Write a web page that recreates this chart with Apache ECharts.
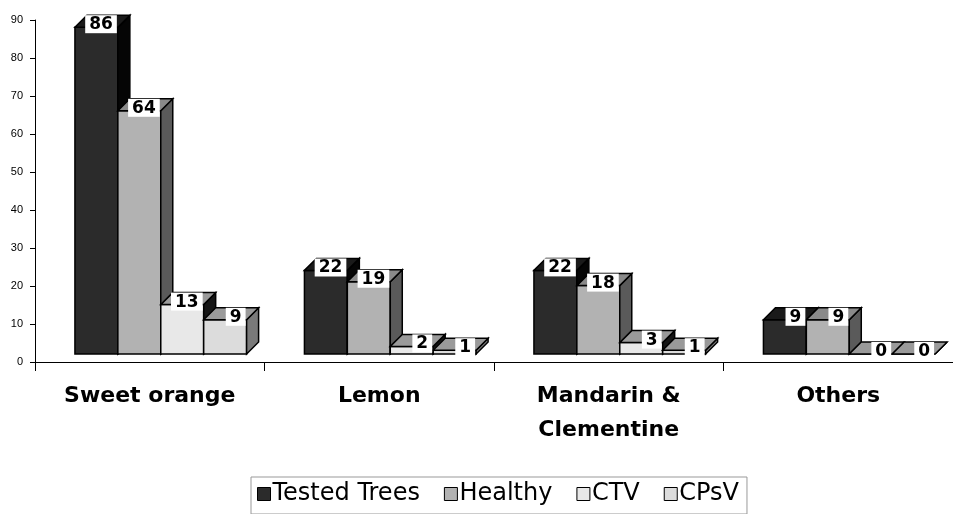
<!DOCTYPE html>
<html>
<head>
<meta charset="utf-8">
<script src="https://cdn.jsdelivr.net/npm/echarts@6/dist/echarts.min.js"></script>
<style>
  html, body { margin: 0; padding: 0; background: #fff; }
  #chart { width: 953px; height: 514px; }
</style>
</head>
<body>
<div id="chart"></div>
<script>
// 数据
const categories = ['Sweet orange', 'Lemon', 'Mandarin &\nClementine', 'Others'];
const seriesNames = ['Tested Trees', 'Healthy', 'CTV', 'CPsV'];
const testedTrees = [86, 22, 22, 9];
const healthy = [64, 19, 18, 9];
const ctv = [13, 2, 3, 0];
const cpsv = [9, 1, 1, 0];
const yTicks = [0, 90, 10];

// 每个系列的面颜色: 正面 / 侧面 / 顶面
const faceColors = [
    { front: '#2b2b2b', side: '#050505', top: '#1a1a1a' },
    { front: '#b2b2b2', side: '#5a5a5a', top: '#8a8a8a' },
    { front: '#e8e8e8', side: '#151515', top: '#9a9a9a' },
    { front: '#dcdcdc', side: '#7a7a7a', top: '#9a9a9a' }
];

const DEPTH = 12;   // 3D深度
const LIFT = 8;     // 正面抬高

// 画一个3D柱子
function makeRender(si) {
    return function (params, api) {
        const cat = api.value(0);
        const v = api.value(1);
        const base = api.coord([cat, 0]);
        const top = api.coord([cat, v]);
        const cw = api.size([1, 0])[0];
        const bw = cw * 0.187;
        const x0 = base[0] - cw / 2 + cw * 0.174 + si * bw;
        const x1 = x0 + bw;
        const yb = base[1] - LIFT;
        const yt = top[1] - LIFT;
        const c = faceColors[si];
        const stroke = { stroke: '#000', lineWidth: 1.5 };
        return {
            type: 'group',
            children: [
                {
                    type: 'rect',
                    shape: { x: x0, y: yt, width: bw, height: yb - yt },
                    style: Object.assign({ fill: c.front }, stroke)
                },
                {
                    type: 'polygon',
                    shape: { points: [[x1, yb], [x1 + DEPTH, yb - DEPTH], [x1 + DEPTH, yt - DEPTH], [x1, yt]] },
                    style: Object.assign({ fill: c.side }, stroke)
                },
                {
                    type: 'polygon',
                    shape: { points: [[x0, yt], [x0 + DEPTH, yt - DEPTH], [x1 + DEPTH, yt - DEPTH], [x1, yt]] },
                    style: Object.assign({ fill: c.top }, stroke)
                },
                {
                    type: 'text',
                    z2: 10,
                    style: {
                        text: String(v),
                        x: x1 - 1,
                        y: yt + 6,
                        align: 'right',
                        verticalAlign: 'bottom',
                        font: 'bold 17px "DejaVu Sans", sans-serif',
                        fill: '#000',
                        backgroundColor: '#fff',
                        padding: [1, 4, 0, 4]
                    }
                }
            ]
        };
    };
}

const allValues = [testedTrees, healthy, ctv, cpsv];

const chart = echarts.init(document.getElementById('chart'));
chart.setOption({
    animation: false,
    backgroundColor: '#fff',
    grid: { left: 35, right: 0, top: 20, bottom: 152 },
    legend: {
        data: seriesNames,
        left: 251,
        top: 477,
        icon: 'rect',
        itemWidth: 13,
        itemHeight: 13,
        itemGap: 24,
        padding: [5, 8, 8, 6],
        borderColor: '#999',
        borderWidth: 1,
        itemStyle: { borderColor: '#000', borderWidth: 1 },
        textStyle: { fontSize: 24, color: '#000', fontFamily: '"DejaVu Sans", sans-serif', padding: [0, 0, 0, -3] }
    },
    xAxis: {
        type: 'category',
        data: categories,
        axisLine: { lineStyle: { color: '#000', width: 1 } },
        axisTick: { show: true, length: 9, lineStyle: { color: '#000' } },
        axisLabel: {
            interval: 0,
            margin: 17,
            fontSize: 22,
            lineHeight: 34,
            fontWeight: 'bold',
            color: '#000',
            fontFamily: '"DejaVu Sans", sans-serif'
        },
        splitLine: { show: false }
    },
    yAxis: {
        type: 'value',
        min: yTicks[0],
        max: yTicks[1],
        interval: yTicks[2],
        axisLine: { show: true, lineStyle: { color: '#000' } },
        axisTick: { show: true, length: 5, lineStyle: { color: '#000' } },
        axisLabel: { fontSize: 11, color: '#000', margin: 12, fontFamily: '"Liberation Sans", Arial, sans-serif' },
        splitLine: { show: false }
    },
    series: seriesNames.map(function (name, si) {
        return {
            name: name,
            type: 'custom',
            renderItem: makeRender(si),
            itemStyle: { color: faceColors[si].front },
            encode: { x: 0, y: 1 },
            data: allValues[si].map(function (v, i) { return [i, v]; })
        };
    })
});

window.addEventListener('resize', function () {
    chart.resize();
});
</script>
</body>
</html>
